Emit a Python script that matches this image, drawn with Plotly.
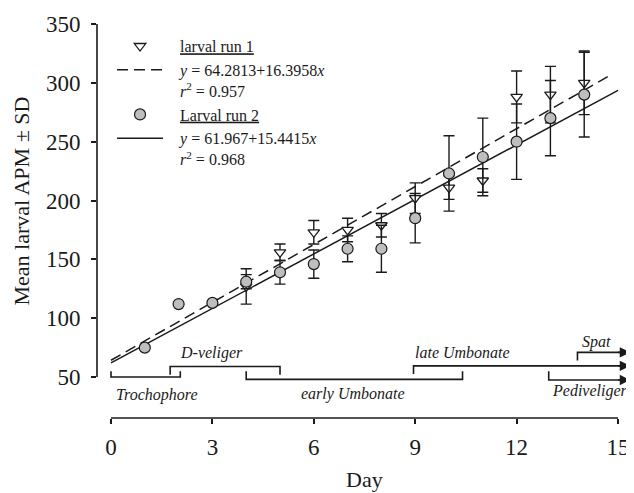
import plotly.graph_objects as go

# ---- data ----
days_run1 = [4, 5, 6, 7, 8, 9, 10, 11, 12, 13, 14]
apm_run1 = [127, 156, 173, 175, 179, 202, 211, 217, 288, 290, 300]
sd_run1 = [15, 7, 10, 10, 10, 13, 10, 10, 22, 24, 27]

days_run2 = [1, 2, 3, 4, 5, 6, 7, 8, 9, 10, 11, 12, 13, 14]
apm_run2 = [75, 112, 113, 131, 139, 146, 159, 159, 185, 223, 237, 250, 270, 290]
sd_run2 = [0, 0, 0, 6, 10, 12, 11, 20, 21, 32, 33, 32, 32, 36]

fit_intercepts = [64.2813, 61.967]
fit_slopes = [16.3958, 15.4415]
fit_r2 = [0.957, 0.968]
fit_x_start = [0, 0]
fit_x_end = [14.75, 15]

stage_names = ["Trochophore", "D-veliger", "early Umbonate", "late Umbonate", "Pediveliger", "Spat"]
stage_start = [0, 1.75, 4.0, 8.95, 12.95, 13.8]
stage_end = [2.05, 5.0, 10.4, 15.36, 15.36, 15.36]
stage_level = [50, 59, 48, 59.5, 47.5, 71]
stage_tick = [55, 52, 55, 52.5, 55, 64]
stage_arrow = [False, False, False, True, True, True]
stage_label_x = [1.36, 2.96, 7.16, 10.41, 14.17, 14.35]
stage_label_y = [34.5, 70.5, 35.3, 70.5, 38.5, 79.5]

x_ticks = [0, 3, 6, 9, 12, 15]
y_ticks = [50, 100, 150, 200, 250, 300, 350]

FONT = "Liberation Serif"
INK = "#1a1a1a"
PAD = "\u00a0\u00a0\u00a0"

fig = go.Figure()

# stage brackets
annotations = []
for i, name in enumerate(stage_names):
    if stage_arrow[i]:
        bx = [stage_start[i], stage_start[i], stage_end[i] - 0.1]
        by = [stage_tick[i], stage_level[i], stage_level[i]]
        annotations.append(dict(
            x=stage_end[i], y=stage_level[i], xref="x", yref="y",
            ax=stage_end[i] - 0.4, ay=stage_level[i], axref="x", ayref="y",
            showarrow=True, arrowhead=2, arrowsize=1.3, arrowwidth=1.6,
            arrowcolor=INK, standoff=0, text=""))
    else:
        bx = [stage_start[i], stage_start[i], stage_end[i], stage_end[i]]
        by = [stage_tick[i], stage_level[i], stage_level[i], stage_tick[i]]
    fig.add_trace(go.Scatter(x=bx, y=by, mode="lines", showlegend=False,
                             line=dict(color=INK, width=1.6), hoverinfo="skip"))
    annotations.append(dict(
        x=stage_label_x[i], y=stage_label_y[i], xref="x", yref="y",
        text="<i>" + name + "</i>", showarrow=False,
        font=dict(family=FONT, size=16, color=INK)))

# regression lines
fit_dash = ["11px,6px", "solid"]
fit_rank = [2, 4]
for i in range(2):
    xs = [fit_x_start[i], fit_x_end[i]]
    ys = [fit_intercepts[i] + fit_slopes[i] * v for v in xs]
    label = (PAD + "<i>y</i> = %s+%s<i>x</i><br>" % (fit_intercepts[i], fit_slopes[i])
             + PAD + "<i>r</i><sup>2</sup> = %.3f" % fit_r2[i])
    fig.add_trace(go.Scatter(x=xs, y=ys, mode="lines", name=label,
                             legendrank=fit_rank[i],
                             line=dict(color=INK, width=1.5, dash=fit_dash[i])))

# data points
fig.add_trace(go.Scatter(
    x=days_run1, y=apm_run1, mode="markers", name=PAD + "<u>larval run 1</u>",
    legendrank=1,
    marker=dict(symbol="triangle-down", size=10, color="white",
                line=dict(color=INK, width=1.3)),
    error_y=dict(type="data", array=sd_run1, visible=True, color=INK,
                 thickness=1.4, width=5.5)))
fig.add_trace(go.Scatter(
    x=days_run2, y=apm_run2, mode="markers", name=PAD + "<u>Larval run 2</u>",
    legendrank=3,
    marker=dict(symbol="circle", size=11, color="#bebebe",
                line=dict(color=INK, width=1.2)),
    error_y=dict(type="data", array=sd_run2, visible=True, color=INK,
                 thickness=1.4, width=5.5)))

# axis titles
annotations.append(dict(x=-0.1397, y=200, xref="paper", yref="y",
                        text="Mean larval APM \u00b1 SD", textangle=-90,
                        showarrow=False, xanchor="center", yanchor="middle",
                        font=dict(family=FONT, size=22, color=INK)))
annotations.append(dict(x=7.5, y=-0.155, xref="x", yref="paper",
                        text="Day", showarrow=False, xanchor="center",
                        yanchor="middle",
                        font=dict(family=FONT, size=22, color=INK)))

# axis lines spanning only the labelled ranges
shapes = [
    dict(type="line", xref="paper", yref="y", x0=0, x1=0,
         y0=y_ticks[0], y1=y_ticks[-1], line=dict(color=INK, width=1.6)),
    dict(type="line", xref="x", yref="paper", x0=x_ticks[0], x1=x_ticks[-1],
         y0=0, y1=0, line=dict(color=INK, width=1.6)),
]

# the page body adds an 8px margin, so the figure is offset by 8px
fig.update_layout(
    width=634, height=493,
    margin=dict(l=89, r=8, t=16, b=83),
    paper_bgcolor="white", plot_bgcolor="white",
    font=dict(family=FONT, color=INK),
    showlegend=True,
    legend=dict(x=0.028, y=0.987, xanchor="left", yanchor="top",
                bgcolor="rgba(0,0,0,0)", font=dict(family=FONT, size=16, color=INK),
                itemwidth=46, valign="top", tracegroupgap=0),
    annotations=annotations,
    shapes=shapes,
    xaxis=dict(range=[-0.414, 15.473], tickvals=x_ticks, ticks="outside",
               ticklen=5, tickwidth=1.5, tickcolor=INK, showline=False,
               showgrid=False, zeroline=False, ticklabelstandoff=3,
               automargin=False,
               tickfont=dict(family=FONT, size=23, color=INK)),
    yaxis=dict(range=[15.2, 350], tickvals=y_ticks, ticks="outside",
               ticklen=5, tickwidth=1.5, tickcolor=INK, showline=False,
               showgrid=False, zeroline=False, ticklabelstandoff=6,
               automargin=False,
               tickfont=dict(family=FONT, size=23, color=INK)),
)

fig.write_html("out.html")
